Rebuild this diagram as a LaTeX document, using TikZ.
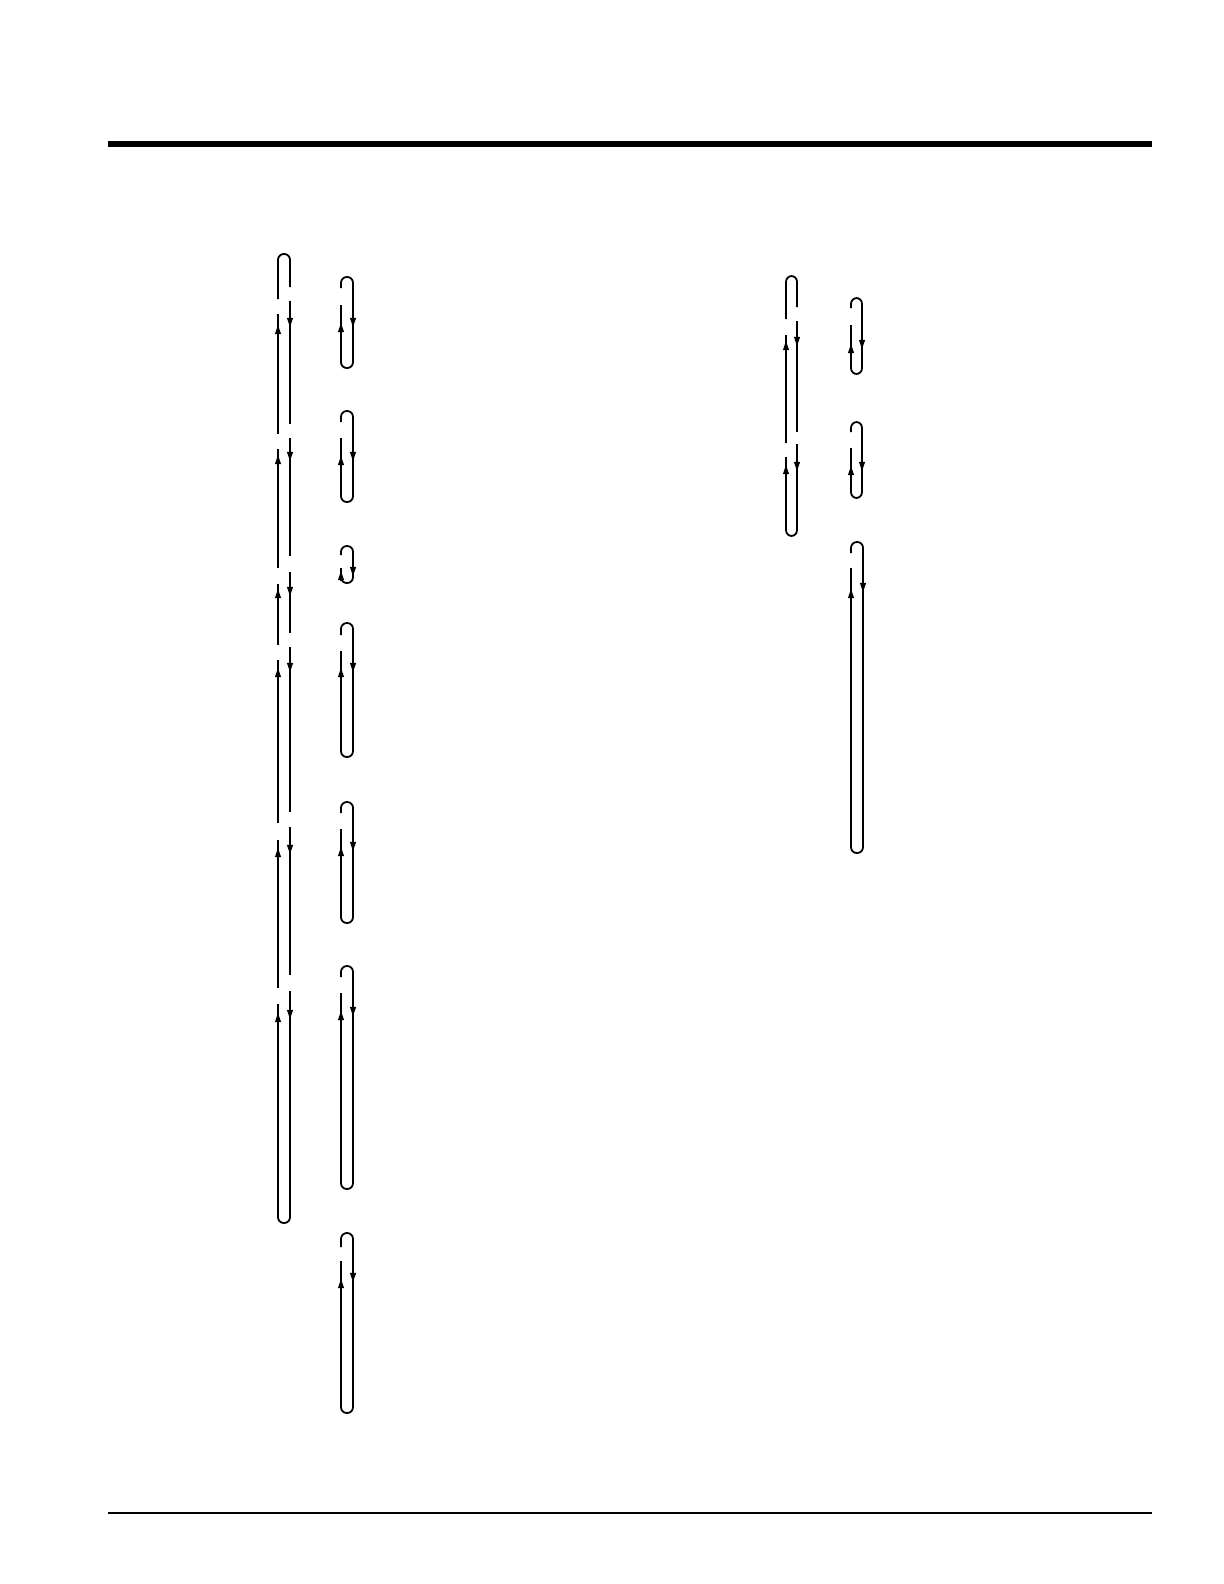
\documentclass[tikz,border=0pt]{standalone}
\usetikzlibrary{arrows.meta}
\tikzset{
  lft/.style={line width=1.1bp},
  rgt/.style={line width=0.75bp},
  arcp/.style={line width=0.9bp, rounded corners=2.9bp},
  arrtip/.style={line width=0.6bp, -{Triangle[length=4.6bp,width=3bp]}},
}
\newcommand\UpA[2]{\draw[arrtip] (#1,#2+5) -- (#1,#2-4);}
\newcommand\DnA[2]{\draw[arrtip] (#1,#2-5) -- (#1,#2+4);}
\begin{document}
\begin{tikzpicture}[x=0.5bp,y=-0.5bp]
\useasboundingbox (0,0) rectangle (1224,1584);
% rules
\fill (108,141) rectangle (1152,147);
\fill (108,1512) rectangle (1152,1514);

% ===== big loop, left column =====
\draw[arcp] (278,299) -- (278,254) -- (290,254) -- (290,287);
\foreach \a/\b in {314/434,449/568,584/645,660/823,840/988}
  {\draw[lft] (278,\a) -- (278,\b);}
\foreach \a/\b in {301/424,438/556,572/633,647/812,827/975}
  {\draw[rgt] (290,\a) -- (290,\b);}
\draw[arcp] (278,1004) -- (278,1223) -- (290,1223) -- (290,991);
\foreach \y in {329,459,593,672,852,1017} {\UpA{278}{\y}}
\foreach \y in {323,457,592,668,850,1015} {\DnA{290}{\y}}

% ===== small loops, left column =====
% loop 1
\draw[arcp] (341,288) -- (341,277) -- (353,277) -- (353,368) -- (341,368) -- (341,305);
\UpA{341}{327} \DnA{353}{323}
% loop 2
\draw[arcp] (341,422) -- (341,411) -- (353,411) -- (353,502) -- (341,502) -- (341,438);
\UpA{341}{460} \DnA{353}{457}
% loop 3 (hook)
\draw[arcp] (341,555) -- (341,546) -- (353,546) -- (353,583) -- (341,583) -- (341,568);
\UpA{341}{575} \DnA{353}{572}
% loop 4
\draw[arcp] (341,635) -- (341,623) -- (353,623) -- (353,757) -- (341,757) -- (341,651);
\UpA{341}{672} \DnA{353}{668}
% loop 5
\draw[arcp] (341,813) -- (341,802) -- (353,802) -- (353,923) -- (341,923) -- (341,829);
\UpA{341}{851} \DnA{353}{847}
% loop 6
\draw[arcp] (341,977) -- (341,966) -- (353,966) -- (353,1189) -- (341,1189) -- (341,993);
\UpA{341}{1015} \DnA{353}{1012}
% loop 7
\draw[arcp] (341,1247) -- (341,1233) -- (353,1233) -- (353,1413) -- (341,1413) -- (341,1261);
\UpA{341}{1283} \DnA{353}{1278}

% ===== big loop, right column =====
\draw[arcp] (786,319) -- (786,276) -- (797,276) -- (797,307);
\draw[lft] (786,335) -- (786,443);
\draw[rgt] (797,321) -- (797,432);
\draw[arcp] (786,457) -- (786,536) -- (797,536) -- (797,444);
\UpA{786}{345} \UpA{786}{469}
\DnA{797}{342} \DnA{797}{467}

% ===== small loops, right column =====
\draw[arcp] (851,308) -- (851,298) -- (862,298) -- (862,374) -- (851,374) -- (851,325);
\UpA{851}{348} \DnA{862}{345}
\draw[arcp] (851,432) -- (851,422) -- (862,422) -- (862,498) -- (851,498) -- (851,448);
\UpA{851}{470} \DnA{862}{467}
\draw[arcp] (851,553) -- (851,542) -- (863,542) -- (863,853) -- (851,853) -- (851,568);
\UpA{851}{593} \DnA{863}{588}
\end{tikzpicture}
\end{document}
